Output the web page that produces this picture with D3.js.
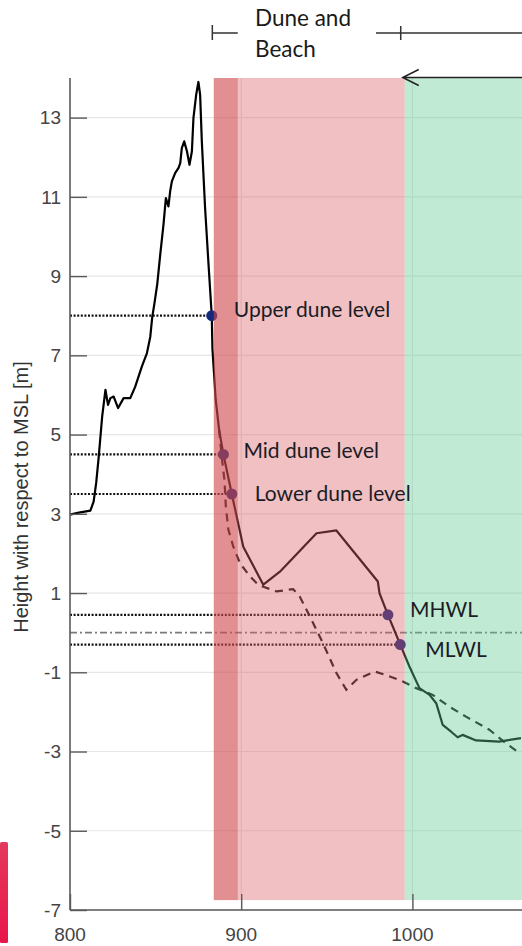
<!DOCTYPE html>
<html>
<head>
<meta charset="utf-8">
<script src="https://cdn.jsdelivr.net/npm/d3@7"></script>
<style>
  body { margin: 0; background: #fff; }
  svg { display: block; }
</style>
</head>
<body>
<svg id="chart" width="522" height="946"></svg>
<script>
// Cross-shore profile: distance along transect [m] and height relative to MSL [m]
const profileX = [800.0, 805.2, 811.9, 813.8, 815.3, 816.8, 818.8, 820.7, 822.2, 823.6, 825.5, 828.1,
  831.3, 835.2, 838.1, 842.0, 844.9, 846.9, 848.0, 849.5, 851.0, 852.7, 854.6, 856.0, 857.5, 858.5,
  859.5, 861.4, 863.4, 864.4, 865.3, 866.7, 868.3, 869.8, 871.2, 872.1, 873.7, 875.0, 876.0, 877.0,
  878.9, 880.8, 882.8, 883.2, 885.1, 887.1, 889.6, 894.5, 901.2, 912.9, 922.6, 944.0, 955.6, 979.8,
  980.8, 985.7, 992.9, 998.3, 1004.1, 1010.0, 1013.9, 1017.7, 1022.6, 1026.4, 1029.3, 1037.2, 1050.7, 1063.4];
const profileZ = [2.98, 3.03, 3.08, 3.31, 3.78, 4.45, 5.46, 6.13, 5.75, 5.92, 5.96, 5.67,
  5.92, 5.92, 6.21, 6.72, 7.05, 7.47, 7.95, 8.36, 8.81, 9.54, 10.30, 10.97, 10.76, 11.14,
  11.39, 11.60, 11.73, 11.85, 12.23, 12.40, 12.15, 11.81, 12.15, 12.99, 13.58, 13.90, 13.58, 12.40,
  10.72, 9.37, 8.0, 7.16, 5.88, 5.12, 4.5, 3.5, 2.17, 1.21, 1.54, 2.51, 2.58, 1.29,
  0.99, 0.45, -0.3, -0.86, -1.40, -1.57, -1.78, -2.33, -2.50, -2.64, -2.58, -2.72, -2.75, -2.66];

// Second (eroded) profile, dashed
const erodedX = [887.1, 888.6, 890.2, 891.0, 892.5, 895.4, 899.3, 905.1, 910.0, 912.9, 920.7, 930.3,
  934.2, 940.1, 947.8, 955.6, 961.4, 967.3, 977.9, 984.7, 994.4, 1002.2, 1011.9, 1021.6, 1031.3,
  1044.9, 1054.6, 1062.4];
const erodedZ = [5.12, 4.45, 3.86, 3.19, 2.60, 2.17, 1.75, 1.42, 1.21, 1.16, 1.04, 1.10,
  0.91, 0.41, -0.27, -1.02, -1.44, -1.19, -0.98, -1.07, -1.23, -1.40, -1.57, -1.87, -2.12,
  -2.45, -2.79, -3.04];

// Characteristic levels along the profile
const levelNames = ["Upper dune level", "Mid dune level", "Lower dune level", "MHWL", "MLWL"];
const levelZ = [8.0, 4.5, 3.5, 0.45, -0.3];
const levelX = [882.8, 889.6, 894.5, 985.7, 992.9];
const mslLevel = 0;

// Zones along the transect
const zoneStart = [884, 884, 995.5];
const zoneEnd = [995.5, 898, 1064];

// Axis ticks
const yTicks = [-7, -5, -3, -1, 1, 3, 5, 7, 9, 11, 13];
const xTicks = [800, 900, 1000];
const yTitle = "Height with respect to MSL [m]";
const zoneTitle = ["Dune and", "Beach"];

(function draw() {
  const svg = d3.select("#chart");
  const left = 70, right = 522, plotTop = 78, plotBottom = 910;
  const x = d3.scaleLinear().domain([800, 1064]).range([left, right]);
  const y = d3.scaleLinear().domain([-7, 14]).range([plotBottom, plotTop]);

  const labelFont = "Lato, 'Open Sans', sans-serif";
  const axisFont = "'Liberation Sans', Arial, sans-serif";

  // grid
  const grid = svg.append("g");
  grid.selectAll("line.h").data(yTicks).join("line")
    .attr("x1", left).attr("x2", right)
    .attr("y1", d => y(d)).attr("y2", d => y(d))
    .attr("stroke", "#e6e6e6").attr("stroke-width", 1.2);
  grid.selectAll("line.v").data(xTicks.slice(1)).join("line")
    .attr("x1", d => x(d)).attr("x2", d => x(d))
    .attr("y1", plotTop).attr("y2", plotBottom)
    .attr("stroke", "#e6e6e6").attr("stroke-width", 1.2);

  // mean sea level, dash-dot
  svg.append("line")
    .attr("x1", left).attr("x2", right)
    .attr("y1", y(mslLevel)).attr("y2", y(mslLevel))
    .attr("stroke", "#7a7a7a").attr("stroke-width", 1.6)
    .attr("stroke-dasharray", "7 3 2 3");

  // dotted guides from the axis to each level point
  svg.append("g").selectAll("line").data(levelZ).join("line")
    .attr("x1", left).attr("x2", (d, i) => x(levelX[i]))
    .attr("y1", d => y(d)).attr("y2", d => y(d))
    .attr("stroke", "#111").attr("stroke-width", 2.2)
    .attr("stroke-dasharray", "2 1.6");

  // profiles
  const line = d3.line().x(d => x(d[0])).y(d => y(d[1]));
  svg.append("path")
    .attr("d", line(d3.zip(erodedX, erodedZ)))
    .attr("fill", "none").attr("stroke", "#111").attr("stroke-width", 2.2)
    .attr("stroke-dasharray", "8 6");
  svg.append("path")
    .attr("d", line(d3.zip(profileX, profileZ)))
    .attr("fill", "none").attr("stroke", "#000").attr("stroke-width", 2.2)
    .attr("stroke-linejoin", "round");

  // level points
  svg.append("g").selectAll("circle").data(levelZ).join("circle")
    .attr("cx", (d, i) => x(levelX[i])).attr("cy", d => y(d))
    .attr("r", 5.5).attr("fill", "#16287a");

  // translucent zone overlays
  const zoneFill = ["rgb(217,98,105)", "rgb(200,60,60)", "rgb(100,203,148)"];
  const zoneAlpha = [0.4, 0.37, 0.4];
  svg.append("g").selectAll("rect").data(zoneStart).join("rect")
    .attr("x", d => x(d)).attr("width", (d, i) => x(zoneEnd[i]) - x(d))
    .attr("y", y(14)).attr("height", y(-6.75) - y(14))
    .attr("fill", (d, i) => zoneFill[i]).attr("fill-opacity", (d, i) => zoneAlpha[i]);

  // level labels
  const labelOffset = [[22, 1], [20, 4], [23, 7], [22, 2], [25, 12]];
  svg.append("g").selectAll("text").data(levelNames).join("text")
    .attr("x", (d, i) => x(levelX[i]) + labelOffset[i][0])
    .attr("y", (d, i) => y(levelZ[i]) + labelOffset[i][1])
    .attr("font-family", labelFont).attr("font-size", 21)
    .attr("fill", "#1c1c24")
    .text(d => d);

  // axes
  const axisColor = "#5a5a5a";
  const yAxis = svg.append("g").attr("transform", `translate(${left},0)`)
    .call(d3.axisRight(y).tickValues(yTicks).tickSize(17).tickFormat(""));
  const xAxis = svg.append("g").attr("transform", `translate(0,${plotBottom})`)
    .call(d3.axisTop(x).tickValues(xTicks).tickSize(16).tickFormat(""));
  [yAxis, xAxis].forEach(g => {
    g.select(".domain").attr("stroke", axisColor).attr("stroke-width", 1.6);
    g.selectAll(".tick line").attr("stroke", axisColor).attr("stroke-width", 1.4);
  });
  yAxis.select(".domain").attr("d", `M0,${plotTop}V${plotBottom}`);
  xAxis.select(".domain").attr("d", `M${left},0H${right}`);

  svg.append("g").selectAll("text").data(yTicks).join("text")
    .attr("x", 61).attr("y", d => y(d)).attr("dy", "0.36em")
    .attr("text-anchor", "end")
    .attr("font-family", axisFont).attr("font-size", 19).attr("fill", "#444")
    .text(d => d);
  svg.append("g").selectAll("text").data(xTicks).join("text")
    .attr("x", d => x(d)).attr("y", 941)
    .attr("text-anchor", "middle")
    .attr("font-family", axisFont).attr("font-size", 19).attr("fill", "#444")
    .text(d => d);

  svg.append("text")
    .attr("transform", "translate(28,497) rotate(-90)")
    .attr("text-anchor", "middle")
    .attr("font-family", axisFont).attr("font-size", 20).attr("fill", "#333")
    .text(yTitle);

  // zone bracket above the plot
  const bracket = svg.append("g").attr("stroke", "#333").attr("stroke-width", 1.5).attr("fill", "none");
  bracket.append("path").attr("d", `M${x(884) - 1.5},25V40M${x(884) - 1.5},33H${x(898)}`);
  bracket.append("path").attr("d", `M376,33H${right}M${x(995.5) - 4},26V40`);
  svg.append("g").selectAll("text").data(zoneTitle).join("text")
    .attr("x", 255).attr("y", (d, i) => 26 + i * 31)
    .attr("font-family", labelFont).attr("font-size", 22.5).attr("fill", "#1a1a1a")
    .text(d => d);

  // arrow pointing landward along the top edge
  const ax0 = x(995.5) - 2;
  svg.append("path")
    .attr("d", `M${right},${plotTop - 0.5}H${ax0}M${ax0 + 16},${plotTop - 8.5}L${ax0},${plotTop - 0.5}L${ax0 + 16},${plotTop + 7.5}`)
    .attr("fill", "none").attr("stroke", "#222").attr("stroke-width", 1.5);

  // coloured strip at the lower-left edge
  const strip = svg.append("defs").append("linearGradient").attr("id", "strip")
    .attr("x1", 0).attr("x2", 0).attr("y1", 0).attr("y2", 1);
  strip.append("stop").attr("offset", 0).attr("stop-color", "#e5395f");
  strip.append("stop").attr("offset", 1).attr("stop-color", "#e8164a");
  svg.append("rect").attr("x", 0).attr("y", 842).attr("width", 8).attr("height", 101)
    .attr("rx", 1.5).attr("fill", "url(#strip)");
})();
</script>
</body>
</html>
